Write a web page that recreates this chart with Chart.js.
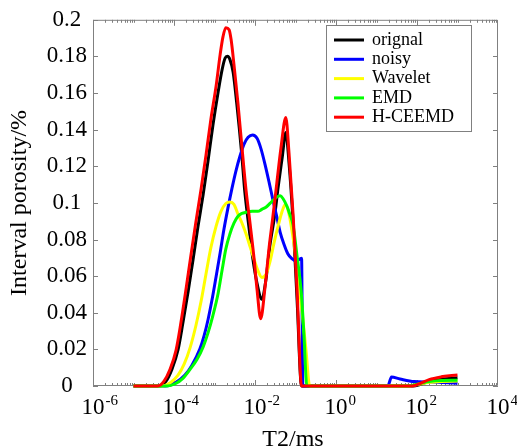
<!DOCTYPE html>
<html>
<head>
<meta charset="utf-8">
<script src="https://cdn.jsdelivr.net/npm/chart.js@4.4.1/dist/chart.umd.min.js"></script>
<style>
  body { margin: 0; background: #fff; }
  canvas { display: block; }
</style>
</head>
<body>
<canvas id="t2-chart" width="517" height="448"></canvas>
<script>
'use strict';

// T2 positions are kept as log10(T2 / ms), porosity in %
const seriesNames = ["orignal", "noisy", "Wavelet", "EMD", "H-CEEMD"];
const seriesColors = ["#000000", "#0000ff", "#ffff00", "#00ff00", "#ff0000"];

const origLogT2 = [-5, -4.35, -4.2, -4.05, -3.9, -3.78, -3.65, -3.53, -3.41, -3.28, -3.16, -3.04, -2.91, -2.81, -2.74, -2.68, -2.62, -2.54, -2.45, -2.33, -2.25, -2.15, -2.05, -1.95, -1.83, -1.73, -1.63, -1.51, -1.43, -1.33, -1.24, -1.16, -1.06, -0.96, -0.85, 1.9, 2.1, 2.3, 2.6, 3.0];
const origPorosity = [0, 0, 0.0025, 0.0092, 0.0198, 0.0345, 0.0518, 0.069, 0.0868, 0.1046, 0.1229, 0.1423, 0.1606, 0.173, 0.179, 0.1801, 0.1784, 0.1714, 0.1542, 0.1272, 0.1057, 0.0868, 0.069, 0.0561, 0.0474, 0.0582, 0.0771, 0.0938, 0.1084, 0.1245, 0.1385, 0.1218, 0.0895, 0.0464, 0, 0, 0.001, 0.0025, 0.0037, 0.0045];

const noisyLogT2 = [-5, -4.22, -3.98, -3.73, -3.56, -3.36, -3.26, -3.16, -3.06, -2.96, -2.86, -2.77, -2.67, -2.57, -2.47, -2.37, -2.27, -2.17, -2.06, -1.95, -1.85, -1.75, -1.65, -1.56, -1.46, -1.38, -1.28, -1.19, -1.09, -0.98, -0.85, -0.82, 1.28, 1.37, 1.58, 1.93, 2.32, 3.0];
const noisyPorosity = [0, 0, 0.0016, 0.006, 0.0112, 0.0203, 0.0272, 0.0362, 0.0472, 0.0598, 0.0728, 0.0852, 0.097, 0.1078, 0.1175, 0.1256, 0.1321, 0.1358, 0.1371, 0.1353, 0.1294, 0.1208, 0.1111, 0.1019, 0.0922, 0.0841, 0.0771, 0.0722, 0.0695, 0.0682, 0.0698, 0, 0, 0.0049, 0.0038, 0.0024, 0.0022, 0.0015];

const wavLogT2 = [-5, -4.3, -4.1, -3.9, -3.75, -3.6, -3.46, -3.33, -3.21, -3.09, -2.96, -2.84, -2.72, -2.62, -2.52, -2.42, -2.32, -2.22, -2.12, -2.02, -1.93, -1.83, -1.73, -1.63, -1.53, -1.43, -1.33, -1.25, -1.16, -1.09, -1.01, -0.94, -0.84, -0.74, -0.65, 1.78, 2.0, 2.3, 2.6, 3.0];
const wavPorosity = [0, 0, 0.0016, 0.0059, 0.0119, 0.0211, 0.0329, 0.0464, 0.0612, 0.0755, 0.0873, 0.0954, 0.0997, 0.1005, 0.0992, 0.0938, 0.0889, 0.083, 0.076, 0.069, 0.0631, 0.0593, 0.0609, 0.0679, 0.0782, 0.0873, 0.0954, 0.0992, 0.0938, 0.0852, 0.0733, 0.0598, 0.041, 0.0194, 0, 0, 0.0008, 0.002, 0.0025, 0.0027];

const emdLogT2 = [-5, -4.17, -3.98, -3.78, -3.6, -3.43, -3.28, -3.16, -3.04, -2.91, -2.81, -2.72, -2.62, -2.52, -2.42, -2.32, -2.22, -2.07, -1.93, -1.83, -1.73, -1.63, -1.53, -1.46, -1.38, -1.31, -1.21, -1.14, -1.06, -0.96, -0.86, -0.79, -0.72, 1.75, 2.0, 2.3, 2.6, 3.0];
const emdPorosity = [0, 0, 0.0011, 0.0042, 0.0092, 0.0146, 0.0214, 0.029, 0.0385, 0.0507, 0.0636, 0.0749, 0.083, 0.0889, 0.0927, 0.0943, 0.0949, 0.0954, 0.0954, 0.0965, 0.0976, 0.0997, 0.1019, 0.1032, 0.1039, 0.1024, 0.0981, 0.0938, 0.0879, 0.0706, 0.0518, 0.0275, 0, 0, 0.001, 0.0024, 0.003, 0.0031];

const hceemdLogT2 = [-5, -4.4, -4.25, -4.1, -3.95, -3.83, -3.7, -3.58, -3.46, -3.33, -3.21, -3.09, -2.96, -2.86, -2.79, -2.72, -2.64, -2.59, -2.52, -2.42, -2.32, -2.22, -2.12, -2.02, -1.95, -1.86, -1.75, -1.65, -1.56, -1.46, -1.36, -1.24, -1.16, -1.06, -0.96, -0.85, 1.87, 2.05, 2.3, 2.6, 2.8, 3.0];
const hceemdPorosity = [0, 0, 0.0025, 0.009, 0.0195, 0.0345, 0.0534, 0.0717, 0.0895, 0.1078, 0.1261, 0.1456, 0.1639, 0.1811, 0.1908, 0.1957, 0.1946, 0.1892, 0.1757, 0.1542, 0.1299, 0.1067, 0.0884, 0.069, 0.0528, 0.0367, 0.0544, 0.076, 0.0922, 0.1111, 0.1299, 0.1466, 0.1272, 0.0938, 0.0518, 0, 0, 0.0012, 0.0035, 0.005, 0.0056, 0.006];

const xTickExponents = [-6, -4, -2, 0, 2, 4];
const yTickValues = [0, 0.02, 0.04, 0.06, 0.08, 0.1, 0.12, 0.14, 0.16, 0.18, 0.2];

const serif = "'Liberation Serif', 'Times New Roman', serif";
const axisColor = "#808080";


function toPoints(logT2, porosity) {
    return logT2.map((e, i) => ({ x: 10 ** e, y: porosity[i] }));
}

const seriesData = [
    toPoints(origLogT2, origPorosity),
    toPoints(noisyLogT2, noisyPorosity),
    toPoints(wavLogT2, wavPorosity),
    toPoints(emdLogT2, emdPorosity),
    toPoints(hceemdLogT2, hceemdPorosity),
];

// later series are painted on top, like the plotting order
const datasets = seriesData.map((data, i) => ({
    label: seriesNames[i],
    data: data,
    borderColor: seriesColors[i],
    backgroundColor: seriesColors[i],
    borderWidth: 3,
    pointRadius: 0,
    cubicInterpolationMode: "monotone",
    fill: false,
    clip: 4,
    order: seriesData.length - i,
}));


// box, inward ticks on all four sides
const axesFrame = {
    id: "axesFrame",
    beforeDatasetsDraw(chart) {
        const { ctx, chartArea: area, scales: { x, y } } = chart;
        ctx.save();
        ctx.strokeStyle = axisColor;
        ctx.lineWidth = 1;
        ctx.beginPath();
        ctx.rect(area.left + 0.5, area.top + 0.5, area.right - area.left - 1, area.bottom - area.top - 1);

        for (const v of yTickValues) {
            const py = Math.round(y.getPixelForValue(v)) + 0.5;
            ctx.moveTo(area.left, py);
            ctx.lineTo(area.left + 5, py);
            ctx.moveTo(area.right, py);
            ctx.lineTo(area.right - 5, py);
        }

        for (let n = -6; n < 4; n++) {
            for (let k = 1; k <= 9; k++) {
                const px = Math.round(x.getPixelForValue(k * 10 ** n)) + 0.5;
                const len = (k === 1 && xTickExponents.includes(n)) ? 6 : 3;
                ctx.moveTo(px, area.bottom);
                ctx.lineTo(px, area.bottom - len);
                ctx.moveTo(px, area.top);
                ctx.lineTo(px, area.top + len);
            }
        }
        ctx.stroke();
        ctx.restore();
    },
    afterDraw(chart) {
        const { ctx, chartArea: area, scales: { x } } = chart;
        ctx.save();
        ctx.fillStyle = "#000";

        // decade labels with raised exponent
        for (const n of xTickExponents) {
            const px = x.getPixelForValue(10 ** n);
            ctx.font = `23px ${serif}`;
            ctx.textAlign = "center";
            ctx.textBaseline = "alphabetic";
            const baseWidth = ctx.measureText("10").width;
            ctx.fillText("10", px, 414);
            ctx.font = `15px ${serif}`;
            ctx.textAlign = "left";
            ctx.fillText(String(n), px + baseWidth / 2 + 1, 405);
        }

        // axis titles
        ctx.font = `24px ${serif}`;
        ctx.textAlign = "center";
        ctx.fillText("T2/ms", 293, 446);
        ctx.save();
        ctx.translate(26, (area.top + area.bottom) / 2);
        ctx.rotate(-Math.PI / 2);
        ctx.fillText("Interval porosity/%", 0, 0);
        ctx.restore();

        // legend box in the upper right
        const box = { left: 326, top: 25, width: 145, height: 106 };
        ctx.fillStyle = "#fff";
        ctx.fillRect(box.left, box.top, box.width, box.height);
        ctx.strokeStyle = axisColor;
        ctx.lineWidth = 1;
        ctx.strokeRect(box.left + 0.5, box.top + 0.5, box.width, box.height);

        ctx.font = `18px ${serif}`;
        ctx.textAlign = "left";
        ctx.textBaseline = "middle";
        chart.data.datasets.forEach((ds, i) => {
            const rowY = box.top + 15 + i * 19.3;
            ctx.strokeStyle = ds.borderColor;
            ctx.lineWidth = 3;
            ctx.beginPath();
            ctx.moveTo(box.left + 8, rowY);
            ctx.lineTo(box.left + 38, rowY);
            ctx.stroke();
            ctx.fillStyle = "#000";
            ctx.fillText(ds.label, box.left + 46, rowY);
        });
        ctx.restore();
    }
};


const t2Ctx = document.querySelector("#t2-chart");

const t2Config = {
    type: "line",
    data: { datasets: datasets },
    options: {
        responsive: false,
        animation: false,
        devicePixelRatio: 1,
        layout: {
            padding: { top: 15, right: 19, bottom: 0, left: 0 },
        },
        scales: {
            x: {
                type: "logarithmic",
                min: 1e-6,
                max: 1e4,
                grid: { display: false, drawTicks: false },
                border: { display: false },
                ticks: { display: false },
                afterFit: scale => { scale.height = 62; },
            },
            y: {
                min: 0,
                max: 0.2,
                grid: { display: false, drawTicks: false },
                border: { display: false },
                afterBuildTicks: scale => {
                    scale.ticks = yTickValues.map(v => ({ value: v }));
                },
                ticks: {
                    color: "#000",
                    font: { family: serif, size: 23 },
                    padding: 6,
                    crossAlign: "center",
                    callback: value => String(value),
                },
                afterFit: scale => { scale.width = 93; },
            },
        },
        plugins: {
            legend: { display: false },
            tooltip: { enabled: false },
        },
    },
    plugins: [axesFrame],
};

new Chart(t2Ctx, t2Config);
</script>
</body>
</html>
